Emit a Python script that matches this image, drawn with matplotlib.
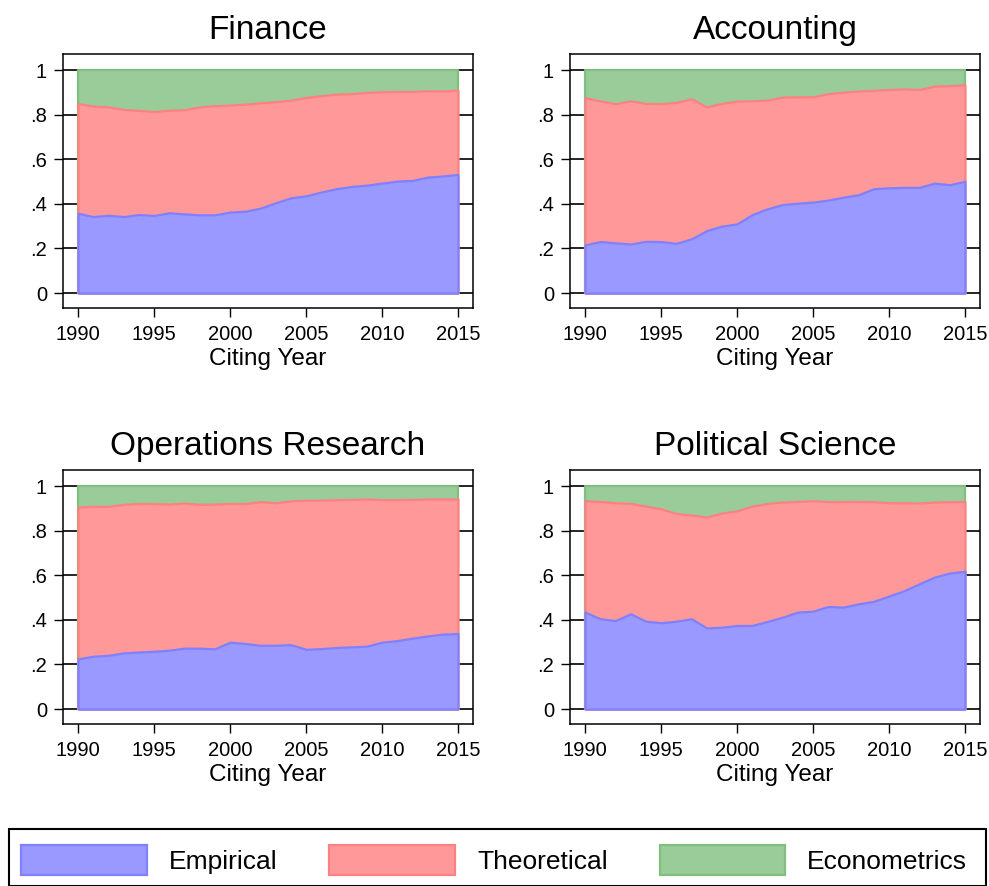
import numpy as np
import matplotlib
matplotlib.use("Agg")
import matplotlib.pyplot as plt
from matplotlib.patches import Patch, Rectangle

plt.rcParams['font.family'] = ['Liberation Sans', 'DejaVu Sans']

years = list(range(1990, 2016))

titles = ["Finance", "Accounting", "Operations Research", "Political Science"]
series_labels = ["Empirical", "Theoretical", "Econometrics"]

finance_empirical = [.358, .343, .349, .343, .352, .348, .360, .355, .351, .351, .363, .367, .381,
                     .405, .427, .436, .453, .468, .478, .484, .493, .502, .505, .520, .525, .532]
finance_theoretical = [.492, .495, .486, .480, .467, .466, .460, .467, .484, .489, .480, .480, .472,
                       .453, .438, .441, .432, .424, .416, .416, .410, .402, .399, .387, .381, .378]
finance_econometrics = [.150, .162, .165, .177, .181, .186, .180, .178, .165, .160, .157, .153, .147,
                        .142, .135, .123, .115, .108, .106, .100, .097, .096, .096, .093, .094, .090]

accounting_empirical = [.216, .231, .225, .220, .232, .231, .223, .243, .280, .300, .310, .352, .378,
                        .397, .403, .408, .417, .430, .441, .468, .472, .474, .474, .493, .486, .501]
accounting_theoretical = [.660, .631, .624, .642, .618, .618, .632, .628, .555, .550, .551, .510, .487,
                          .482, .477, .472, .477, .471, .465, .441, .441, .441, .439, .435, .444, .433]
accounting_econometrics = [.124, .138, .151, .138, .150, .151, .145, .129, .165, .150, .139, .138, .135,
                           .121, .120, .120, .106, .099, .094, .091, .087, .085, .087, .072, .070, .066]

opres_empirical = [.225, .237, .241, .252, .256, .259, .264, .273, .273, .270, .300, .294, .286,
                   .286, .289, .268, .271, .276, .279, .282, .300, .307, .318, .328, .336, .339]
opres_theoretical = [.681, .672, .668, .666, .666, .662, .655, .651, .645, .649, .622, .628, .644,
                     .639, .645, .668, .666, .663, .661, .660, .639, .632, .622, .614, .606, .603]
opres_econometrics = [.094, .091, .091, .082, .078, .079, .081, .076, .082, .081, .078, .078, .070,
                      .075, .066, .064, .063, .061, .060, .058, .061, .061, .060, .058, .058, .058]

polsci_empirical = [.435, .405, .397, .427, .394, .387, .394, .405, .364, .367, .375, .375, .393,
                    .412, .435, .439, .460, .457, .472, .483, .507, .531, .562, .592, .610, .618]
polsci_theoretical = [.499, .526, .528, .495, .516, .511, .483, .465, .497, .512, .514, .535, .529,
                      .516, .496, .495, .470, .474, .459, .447, .418, .394, .362, .336, .320, .312]
polsci_econometrics = [.066, .069, .075, .078, .090, .102, .123, .130, .139, .121, .111, .090, .078,
                       .072, .069, .066, .070, .069, .069, .070, .075, .075, .076, .072, .070, .070]

panel_data = [
    (finance_empirical, finance_theoretical, finance_econometrics),
    (accounting_empirical, accounting_theoretical, accounting_econometrics),
    (opres_empirical, opres_theoretical, opres_econometrics),
    (polsci_empirical, polsci_theoretical, polsci_econometrics),
]

xticks = [1990, 1995, 2000, 2005, 2010, 2015]
yticks = [0, .2, .4, .6, .8, 1]
ytick_labels = ["0", ".2", ".4", ".6", ".8", "1"]

fills = ['#9999ff', '#ff9999', '#99cc99']
edges = ['#8080ff', '#ff8080', '#80bf80']

W, H = 989, 886
fig = plt.figure(figsize=(W / 100, H / 100), dpi=100)

# frame boxes in pixels: (left, top, right, bottom)
frames = [(63, 54, 473, 308), (570, 54, 980, 308), (63, 470, 473, 724), (570, 470, 980, 724)]

for k, (fr, title, data) in enumerate(zip(frames, titles, panel_data)):
    l, t, r, b = fr
    ax = fig.add_axes([l / W, 1 - b / H, (r - l) / W, (b - t) / H])
    x = np.array(years)
    cum = np.cumsum(np.array(data), axis=0)
    # draw from top layer to bottom so lower series' edges sit on top
    for i in [2, 1, 0]:
        ax.fill_between(x, 0, cum[i], facecolor=fills[i], edgecolor=edges[i],
                        linewidth=1.6, zorder=2 + (2 - i))
    ax.set_xlim(1990 - 0.99, 2015 + 0.99)
    ax.set_ylim(-0.067, 1.072)
    ax.set_xticks(xticks)
    ax.set_yticks(yticks)
    ax.set_yticklabels(ytick_labels)
    ax.grid(axis='y', color='black', linewidth=1.2, zorder=0)
    ax.set_axisbelow(True)
    ax.tick_params(axis='both', direction='out', length=6.5, width=1.0, labelsize=14.5, color='black')
    ax.tick_params(axis='x', pad=5.5)
    ax.tick_params(axis='y', pad=5)
    for s in ax.spines.values():
        s.set_linewidth(1.1)
        s.set_color('black')
    ax.set_xlabel("Citing Year", fontsize=17.5, labelpad=3)
    ax.set_title(title, fontsize=24, pad=11)

handles = [Patch(facecolor=fills[i], edgecolor=edges[i], linewidth=1.6) for i in range(3)]
fig.legend(handles, series_labels, ncol=3, loc='center',
           bbox_to_anchor=(494 / W, 1 - 860 / H), frameon=False, fontsize=19,
           handlelength=4.77, handleheight=1.36, handletextpad=0.83, columnspacing=1.97,
           borderpad=0, borderaxespad=0)
fig.patches.append(Rectangle((9 / W, 0.5 / H), 977 / W, (886 - 829 - 0.5) / H,
                             transform=fig.transFigure, fill=False, edgecolor='black', linewidth=1.5))

fig.savefig("out.png", dpi=100)
